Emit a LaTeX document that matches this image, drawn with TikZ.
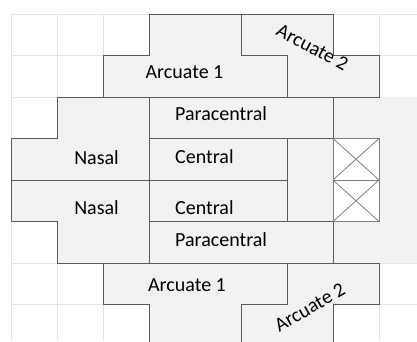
\documentclass[tikz,border=0pt]{standalone}
\usepackage{fontspec}
\setmainfont{Carlito}
\definecolor{gridc}{HTML}{E4E4E4}
\definecolor{zonefill}{HTML}{F2F2F2}
\definecolor{zoneline}{HTML}{5A5A5A}
\definecolor{crossline}{HTML}{808080}
\tikzset{
  gridline/.style={draw=gridc, line width=0.8pt},
  zone/.style={draw=zoneline, fill=zonefill, line width=0.8pt, line join=miter},
  crossbox/.style={draw=crossline, fill=white, line width=0.8pt},
  label/.style={inner sep=0pt, font=\fontsize{20}{24}\selectfont, text=black}
}
\begin{document}
\begin{tikzpicture}[x=1pt,y=-1pt]
\useasboundingbox (0,0) rectangle (417,341);
\fill[white] (0,0) rectangle (417,341);
\begin{scope}
\clip (0,0) rectangle (417,341);
% background grid
\foreach \gx in {11,57,103,149,195,241,287,333,379}
  \draw[gridline] (\gx,14) -- (\gx,341);
\foreach \gy in {14,55.5,97,138.5,180,221.5,263,304.5}
  \draw[gridline] (11,\gy) -- (417,\gy);
% shaded band to the right of the centre
\fill[zonefill] (333,97) rectangle (417,263);
% upper arcuate zones
\draw[zone] (149,14) -- (241,14) -- (241,55.5) -- (287,55.5) -- (287,97) -- (103,97) -- (103,55.5) -- (149,55.5) -- cycle;
\draw[zone] (241,14) -- (333,14) -- (333,55.5) -- (379,55.5) -- (379,97) -- (287,97) -- (287,55.5) -- (241,55.5) -- cycle;
% nasal zones
\draw[zone] (57,97) -- (149,97) -- (149,180) -- (11,180) -- (11,138.5) -- (57,138.5) -- cycle;
\draw[zone] (11,180) -- (149,180) -- (149,263) -- (57,263) -- (57,221.5) -- (11,221.5) -- cycle;
% paracentral and central zones
\draw[zone] (149,97) rectangle (333,138.5);
\draw[zone] (149,138.5) rectangle (287,180);
\draw[zone] (149,180) rectangle (287,221.5);
\draw[zone] (287,138.5) rectangle (333,221.5);
\draw[zone] (149,221.5) rectangle (333,263);
% crossed cells
\draw[crossbox] (333,138.5) rectangle (379,180);
\draw[crossline, line width=0.8pt] (333,138.5) -- (379,180) (333,180) -- (379,138.5);
\draw[crossbox] (333,180) rectangle (379,221.5);
\draw[crossline, line width=0.8pt] (333,180) -- (379,221.5) (333,221.5) -- (379,180);
% lower arcuate zones
\draw[zone] (103,263) -- (287,263) -- (287,304.5) -- (241,304.5) -- (241,346) -- (149,346) -- (149,304.5) -- (103,304.5) -- cycle;
\draw[zone] (287,263) -- (379,263) -- (379,304.5) -- (333,304.5) -- (333,346) -- (241,346) -- (241,304.5) -- (287,304.5) -- cycle;
\end{scope}
% labels
\node[label, anchor=base] (arcA1) at (184.5,78) {Arcuate 1};
\node[label, anchor=base, rotate=-28] (arcA2) at (309.5,53) {Arcuate 2};
\node[label, anchor=base west] (paraA) at (175,120.5) {Paracentral};
\node[label, anchor=base] (nasA) at (96.5,164.5) {Nasal};
\node[label, anchor=base west] (cenA) at (175,163) {Central};
\node[label, anchor=base] (nasB) at (96.5,214.5) {Nasal};
\node[label, anchor=base west] (cenB) at (175,214) {Central};
\node[label, anchor=base west] (paraB) at (175,246.5) {Paracentral};
\node[label, anchor=base] (arcB1) at (187,291) {Arcuate 1};
\node[label, anchor=base, rotate=30] (arcB2) at (313,313) {Arcuate 2};
\end{tikzpicture}
\end{document}
